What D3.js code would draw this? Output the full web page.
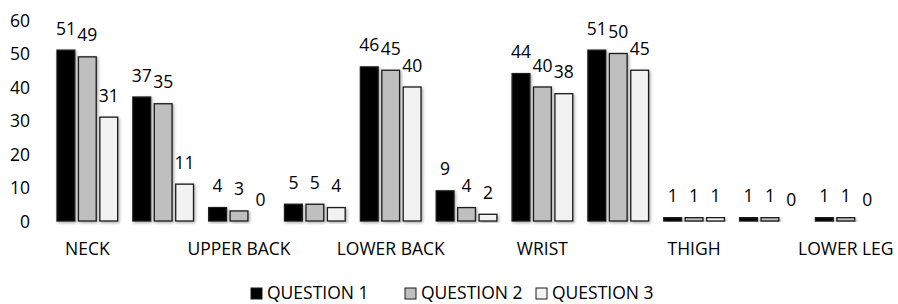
<!DOCTYPE html>
<html>
<head>
<meta charset="utf-8">
<script src="https://cdn.jsdelivr.net/npm/d3@7"></script>
<style>
  body { margin: 0; background: #fff; }
  svg text { font-family: "Open Sans", sans-serif; fill: #000; }
</style>
</head>
<body>
<div id="chart"></div>
<script>
// body parts (every second label is hidden in the original, like Excel does)
const categories = ['NECK', 'SHOULDER', 'UPPER BACK', 'ELBOW', 'LOWER BACK', 'HAND',
  'WRIST', 'HIP', 'THIGH', 'KNEE', 'LOWER LEG'];
const seriesNames = ['QUESTION 1', 'QUESTION 2', 'QUESTION 3'];
const question1 = [51, 37, 4, 5, 46, 9, 44, 51, 1, 1, 1];
const question2 = [49, 35, 3, 5, 45, 4, 40, 50, 1, 1, 1];
const question3 = [31, 11, 0, 4, 40, 2, 38, 45, 1, 0, 0];
const yTicks = [0, 10, 20, 30, 40, 50, 60];

const seriesColors = ['#000000', '#bfbfbf', '#f2f2f2'];

const width = 898;
const height = 304;

const svg = d3.select('#chart').append('svg')
  .attr('width', width)
  .attr('height', height);

const defs = svg.append('defs');
defs.append('filter')
  .attr('id', 'shadow')
  .attr('x', '-30%').attr('y', '-10%')
  .attr('width', '160%').attr('height', '130%')
  .append('feDropShadow')
    .attr('dx', 1.2).attr('dy', 1.2)
    .attr('stdDeviation', 1.5)
    .attr('flood-color', '#000')
    .attr('flood-opacity', 0.35);

const values = [question1, question2, question3];

const x0 = d3.scaleBand()
  .domain(categories)
  .range([49.4, 883.7]);

const x1 = d3.scaleBand()
  .domain(seriesNames)
  .range([7.6, x0.bandwidth() - 7.6])
  .paddingInner(0.17);

const y = d3.scaleLinear()
  .domain([0, 60])
  .range([221, 20]);

// y axis (labels only)
const yAxis = d3.axisLeft(y)
  .tickValues(yTicks)
  .tickSize(0)
  .tickPadding(0);

svg.append('g')
  .attr('class', 'y axis')
  .attr('transform', 'translate(30,0)')
  .call(yAxis)
  .call(g => g.select('.domain').remove())
  .call(g => g.selectAll('text')
    .attr('font-size', '17.5px')
    .attr('dy', '0.36em'));

// x axis, every other label
const xAxis = d3.axisBottom(x0)
  .tickSize(0)
  .tickPadding(0)
  .tickFormat((d, i) => (i % 2 === 0 ? d : ''));

svg.append('g')
  .attr('class', 'x axis')
  .attr('transform', 'translate(0,255)')
  .call(xAxis)
  .call(g => g.select('.domain').remove())
  .call(g => g.selectAll('text')
    .attr('font-size', '17.5px')
    .attr('dy', 0));

// bars
const groups = svg.append('g')
  .selectAll('g')
  .data(categories)
  .enter().append('g')
    .attr('transform', d => 'translate(' + x0(d) + ',0)');

const cells = groups.selectAll('g')
  .data((d, ci) => seriesNames.map((s, si) => ({ series: s, si, value: values[si][ci] })))
  .enter();

cells.filter(d => d.value > 0).append('rect')
  .attr('x', d => x1(d.series))
  .attr('y', d => y(d.value))
  .attr('width', x1.bandwidth())
  .attr('height', d => y(0) - y(d.value))
  .attr('fill', d => seriesColors[d.si])
  .attr('stroke', '#1a1a1a')
  .attr('stroke-width', 1.3)
  .attr('filter', 'url(#shadow)');

cells.append('text')
  .attr('x', d => x1(d.series) + x1.bandwidth() / 2)
  .attr('y', d => y(d.value) - 15.5)
  .attr('text-anchor', 'middle')
  .attr('font-size', '17.5px')
  .text(d => d.value);

// legend
const legendX = [251, 405, 536];
const legend = svg.append('g')
  .selectAll('g')
  .data(seriesNames)
  .enter().append('g')
    .attr('transform', (d, i) => 'translate(' + legendX[i] + ',288)');

legend.append('rect')
  .attr('width', 11)
  .attr('height', 11)
  .attr('fill', (d, i) => seriesColors[i])
  .attr('stroke', '#1a1a1a')
  .attr('stroke-width', 1);

legend.append('text')
  .attr('x', 16)
  .attr('y', 11)
  .attr('font-size', '17.5px')
  .text(d => d);
</script>
</body>
</html>
